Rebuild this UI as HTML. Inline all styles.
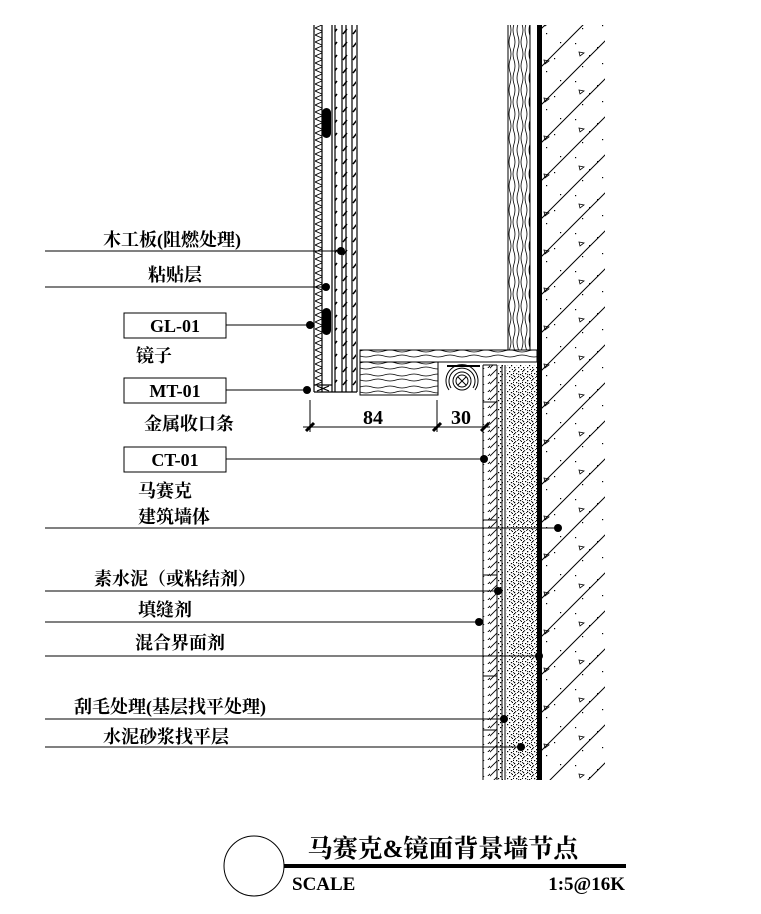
<!DOCTYPE html>
<html><head><meta charset="utf-8"><style>
html,body{margin:0;padding:0;background:#fff}
svg{display:block}
text{font-family:"Liberation Serif","Noto Serif CJK SC",serif;font-weight:bold;fill:#000}
.cn{font-family:"Liberation Serif","Noto Serif CJK SC",serif;font-size:18px;font-weight:bold}
</style></head><body>
<svg width="761" height="914" viewBox="0 0 761 914" xmlns="http://www.w3.org/2000/svg">
<defs>
<pattern id="zig" width="9" height="7" patternUnits="userSpaceOnUse">
<polyline points="0,0 8,3.5 0,7" fill="none" stroke="#000" stroke-width="0.9"/>
</pattern>
<pattern id="dash" width="10" height="13" patternUnits="userSpaceOnUse">
<line x1="3" y1="8" x2="7" y2="3" stroke="#000" stroke-width="1.5"/>
</pattern>
<pattern id="hatch" width="14" height="8" patternUnits="userSpaceOnUse">
<line x1="-2" y1="10" x2="16" y2="-8" stroke="#000" stroke-width="0.9"/>
<line x1="-2" y1="2" x2="6" y2="-6" stroke="#000" stroke-width="0.9"/>
<line x1="10" y1="10" x2="18" y2="2" stroke="#000" stroke-width="0.9"/>
</pattern>
<pattern id="speck" width="9" height="9" patternUnits="userSpaceOnUse">
<rect x="1" y="1" width="1.2" height="1.2"/><rect x="5" y="2" width="1.2" height="1.2"/><rect x="3" y="4" width="1.2" height="1.2"/><rect x="7" y="5" width="1.2" height="1.2"/><rect x="1" y="7" width="1.2" height="1.2"/><rect x="5" y="7" width="1.2" height="1.2"/><rect x="8" y="0" width="1" height="1"/><rect x="0" y="4" width="1" height="1"/>
</pattern>
<pattern id="conc" width="63" height="38" patternUnits="userSpaceOnUse">
<rect x="8" y="5" width="1.2" height="1.2"/><rect x="30" y="9" width="1.2" height="1.2"/><rect x="50" y="20" width="1.2" height="1.2"/><rect x="15" y="28" width="1.2" height="1.2"/><rect x="42" y="33" width="1.2" height="1.2"/><rect x="56" y="4" width="1.2" height="1.2"/><rect x="22" y="17" width="1.2" height="1.2"/><rect x="35" y="25" width="1.2" height="1.2"/>
<polygon points="12,14 17,15 13,18" fill="none" stroke="#000" stroke-width="0.8"/>
<polygon points="40,22 45,23 41,26" fill="none" stroke="#000" stroke-width="0.8"/>
</pattern>
<pattern id="diag" width="38" height="38" patternUnits="userSpaceOnUse">
<line x1="0" y1="38" x2="38" y2="0" stroke="#000" stroke-width="1"/>
<line x1="-5" y1="5" x2="5" y2="-5" stroke="#000" stroke-width="1"/>
<line x1="33" y1="43" x2="43" y2="33" stroke="#000" stroke-width="1"/>
</pattern>
<pattern id="wood" width="24" height="12" patternUnits="userSpaceOnUse">
<path d="M0,3 Q6,1 12,3 T24,3 M0,8 Q6,10 12,8 T24,8" fill="none" stroke="#000" stroke-width="0.8"/>
</pattern>
<pattern id="woodv" width="12" height="24" patternUnits="userSpaceOnUse">
<path d="M2,0 Q0,6 2,12 T2,24 M6,0 Q8,6 6,12 T6,24 M10,0 Q8,6 10,12 T10,24" fill="none" stroke="#000" stroke-width="0.8"/>
</pattern>
</defs>

<!-- left mirror panel -->
<rect x="314" y="25" width="8" height="360" fill="url(#zig)"/>
<rect x="335" y="25" width="21" height="365" fill="url(#dash)"/>
<g stroke="#000" stroke-width="1.2">
<line x1="314" y1="25" x2="314" y2="392"/><line x1="322" y1="25" x2="322" y2="392"/>
<line x1="332" y1="25" x2="332" y2="392"/><line x1="335" y1="25" x2="335" y2="392"/>
<line x1="342" y1="25" x2="342" y2="392"/><line x1="346" y1="25" x2="346" y2="392"/>
<line x1="352" y1="25" x2="352" y2="392"/><line x1="357" y1="25" x2="357" y2="392"/>
<line x1="314" y1="392" x2="357" y2="392"/><line x1="314" y1="385" x2="332" y2="385"/>
<line x1="317" y1="386" x2="329" y2="391"/><line x1="317" y1="391" x2="329" y2="386"/>
</g>
<rect x="322" y="108" width="9" height="30" rx="4.5"/>
<rect x="322" y="308" width="9" height="27" rx="4.5"/>

<!-- right wood strip -->
<rect x="508" y="25" width="22" height="325" fill="url(#woodv)"/>
<line x1="508" y1="25" x2="508" y2="350" stroke="#000"/>
<line x1="530" y1="25" x2="530" y2="350" stroke="#000"/>

<!-- concrete -->
<rect x="542" y="25" width="63" height="755" fill="url(#conc)"/>
<rect x="542" y="25" width="63" height="755" fill="url(#diag)"/>
<rect x="537" y="25" width="5" height="755"/>

<!-- horizontal wood -->
<rect x="360" y="350" width="177" height="12" fill="url(#wood)" stroke="#000"/>
<rect x="360" y="362" width="78" height="33" fill="url(#wood)" stroke="#000"/>
<line x1="438" y1="362" x2="483" y2="362" stroke="#000"/>
<line x1="447" y1="366" x2="480" y2="366" stroke="#000" stroke-width="2"/>
<g fill="none" stroke="#000" stroke-width="1">
<circle cx="462" cy="381" r="6"/><circle cx="462" cy="381" r="9"/>
<path d="M449,390 A16,16 0 1 1 475,390"/><path d="M451,388 A13,13 0 1 1 473,388"/>
<line x1="458" y1="377" x2="466" y2="385"/><line x1="466" y1="377" x2="458" y2="385"/>
</g>

<!-- mosaic layers -->
<rect x="483" y="365" width="14" height="415" fill="url(#hatch)"/>
<rect x="497" y="365" width="6" height="415" fill="url(#speck)"/>
<rect x="506" y="365" width="31" height="415" fill="url(#speck)"/>
<rect x="506" y="365" width="27" height="411" fill="url(#speck)" transform="translate(4,4)" opacity="0.8"/>
<g stroke="#000" stroke-width="1">
<line x1="483" y1="365" x2="483" y2="780"/><line x1="497" y1="365" x2="497" y2="780"/>
<line x1="502" y1="365" x2="502" y2="780"/><line x1="505" y1="365" x2="505" y2="780"/>
<line x1="483" y1="365" x2="497" y2="365"/>
<line x1="483" y1="402" x2="497" y2="402"/><line x1="483" y1="520" x2="497" y2="520"/>
<line x1="483" y1="575" x2="497" y2="575"/><line x1="483" y1="676" x2="497" y2="676"/>
<line x1="483" y1="730" x2="497" y2="730"/>
</g>
<rect x="537" y="365" width="5" height="415"/>

<!-- dimensions -->
<g stroke="#000" stroke-width="1">
<line x1="303" y1="427" x2="490" y2="427"/>
<line x1="310" y1="400" x2="310" y2="432"/><line x1="437" y1="400" x2="437" y2="432"/>
</g>
<g stroke="#000" stroke-width="3">
<line x1="306" y1="431" x2="314" y2="423"/><line x1="433" y1="431" x2="441" y2="423"/><line x1="481" y1="431" x2="489" y2="423"/>
</g>
<text x="373" y="424" font-size="20" text-anchor="middle">84</text>
<text x="461" y="424" font-size="20" text-anchor="middle">30</text>

<!-- leaders -->
<g stroke="#000" stroke-width="1">
<line x1="45" y1="251" x2="341" y2="251"/>
<line x1="45" y1="287" x2="326" y2="287"/>
<line x1="226" y1="325" x2="310" y2="325"/>
<line x1="226" y1="390" x2="307" y2="390"/>
<line x1="226" y1="459" x2="484" y2="459"/>
<line x1="45" y1="528" x2="558" y2="528"/>
<line x1="45" y1="591" x2="498" y2="591"/>
<line x1="45" y1="622" x2="479" y2="622"/>
<line x1="45" y1="656" x2="539" y2="656"/>
<line x1="45" y1="719" x2="504" y2="719"/>
<line x1="45" y1="747" x2="521" y2="747"/>
<rect x="124" y="313" width="102" height="25" fill="#fff"/>
<rect x="124" y="378" width="102" height="25" fill="#fff"/>
<rect x="124" y="447" width="102" height="25" fill="#fff"/>
</g>
<g>
<circle cx="341" cy="251" r="4"/><circle cx="326" cy="287" r="4"/><circle cx="310" cy="325" r="4"/>
<circle cx="307" cy="390" r="4"/><circle cx="484" cy="459" r="4"/><circle cx="558" cy="528" r="4"/>
<circle cx="498" cy="591" r="4"/><circle cx="479" cy="622" r="4"/><circle cx="539" cy="656" r="4"/>
<circle cx="504" cy="719" r="4"/><circle cx="521" cy="747" r="4"/>
</g>
<text x="175" y="332" font-size="18" text-anchor="middle">GL-01</text>
<text x="175" y="397" font-size="18" text-anchor="middle">MT-01</text>
<text x="175" y="466" font-size="18" text-anchor="middle">CT-01</text>

<text class="cn" x="172" y="246" text-anchor="middle">木工板(阻燃处理)</text>
<text class="cn" x="175" y="281" text-anchor="middle">粘贴层</text>
<text class="cn" x="154" y="362" text-anchor="middle">镜子</text>
<text class="cn" x="189" y="430" text-anchor="middle">金属收口条</text>
<text class="cn" x="165" y="497" text-anchor="middle">马赛克</text>
<text class="cn" x="174" y="523" text-anchor="middle">建筑墙体</text>
<text class="cn" x="175" y="585" text-anchor="middle">素水泥（或粘结剂）</text>
<text class="cn" x="165" y="616" text-anchor="middle">填缝剂</text>
<text class="cn" x="180" y="649" text-anchor="middle">混合界面剂</text>
<text class="cn" x="170" y="713" text-anchor="middle">刮毛处理(基层找平处理)</text>
<text class="cn" x="166" y="743" text-anchor="middle">水泥砂浆找平层</text>

<!-- title -->
<circle cx="254" cy="866" r="30" fill="none" stroke="#000" stroke-width="1"/>
<line x1="284" y1="866" x2="626" y2="866" stroke="#000" stroke-width="4"/>
<text class="cn" x="443" y="857" text-anchor="middle" style="font-size:25px">马赛克&amp;镜面背景墙节点</text>
<text x="292" y="890" font-size="19">SCALE</text>
<text x="625" y="890" font-size="19" text-anchor="end">1:5@16K</text>
</svg>
</body></html>
